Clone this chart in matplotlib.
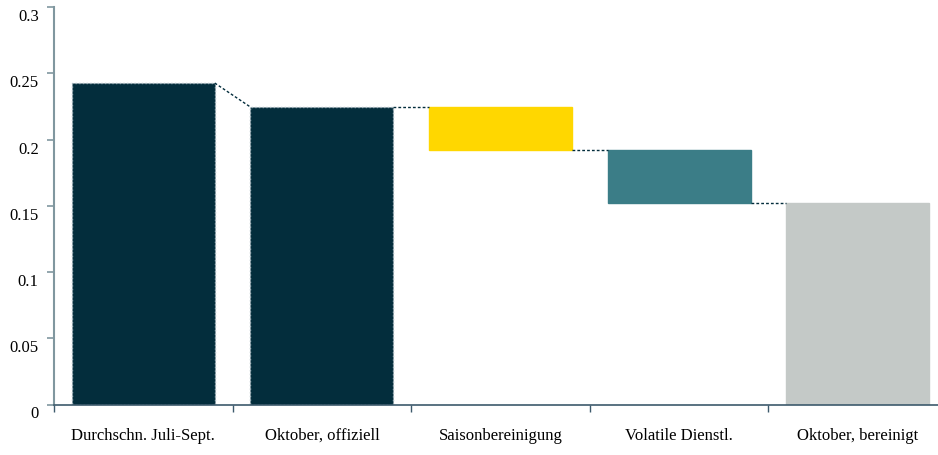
import matplotlib.pyplot as plt
import matplotlib.transforms as mtransforms

plt.rcParams['font.family'] = ['Liberation Serif', 'DejaVu Serif']

# waterfall data
categories = ['Durchschn. Juli-Sept.', 'Oktober, offiziell', 'Saisonbereinigung',
              'Volatile Dienstl.', 'Oktober, bereinigt']
bar_bottom = [0.0, 0.0, 0.1921, 0.1517, 0.0]
bar_top = [0.2426, 0.2245, 0.2245, 0.1921, 0.1517]
bar_colors = ['#032d3c', '#032d3c', '#ffd700', '#3b7d87', '#c4c9c7']
y_ticks = [0, 0.05, 0.1, 0.15, 0.2, 0.25, 0.3]
y_labels = ['0', '0.05', '0.1', '0.15', '0.2', '0.25', '0.3']

width = 0.8

fig = plt.figure(figsize=(9.38, 4.55), dpi=100)
ax = fig.add_axes([54 / 938, 50.5 / 455, 893 / 938, 397.5 / 455])

for i, (b, t, c) in enumerate(zip(bar_bottom, bar_top, bar_colors)):
    dark = c == '#032d3c'
    ax.bar(i, t - b, bottom=b, width=width, color=c,
           edgecolor='#a8b8c0' if dark else c,
           linestyle=':' if dark else '-', linewidth=1.0, zorder=2)

# connectors between neighbouring bars
for i in range(len(categories) - 1):
    x0 = i + width / 2
    x1 = i + 1 - width / 2
    if i == 0:
        y0, y1 = bar_top[0], bar_top[1]
    elif i == 1:
        y0, y1 = bar_top[1], bar_top[2]
    else:
        y0, y1 = bar_bottom[i], bar_top[i + 1]
    ax.plot([x0, x1], [y0, y1], color='#032d3c', linestyle=(0, (2, 1.5)),
            linewidth=1.0, zorder=3)

ax.set_xlim(-0.5, len(categories) - 0.5)
ax.set_ylim(0, 0.3)

ax.set_yticks(y_ticks)
ax.set_yticklabels(y_labels, fontsize=12)
ax.set_xticks(range(len(categories)))
ax.set_xticklabels(categories, fontsize=12)
ax.tick_params(axis='x', length=0, pad=17)
ax.set_xticks([i - 0.5 for i in range(len(categories) + 1)], minor=True)
ax.tick_params(axis='x', which='minor', length=5, color='#3d5a6c', width=1)
ax.tick_params(axis='y', length=5, color='#80979f', width=1.2, pad=6)

# excel-style labels sit a bit below their ticks
offset = mtransforms.ScaledTranslation(0, -8 / 100, fig.dpi_scale_trans)
for lab in ax.get_yticklabels():
    lab.set_transform(lab.get_transform() + offset)

for side in ['top', 'right']:
    ax.spines[side].set_visible(False)
ax.spines['left'].set_color('#80979f')
ax.spines['left'].set_linewidth(1.5)
ax.spines['bottom'].set_color('#3d5a6c')
ax.spines['bottom'].set_linewidth(1.2)

fig.savefig('out.png', dpi=100)
